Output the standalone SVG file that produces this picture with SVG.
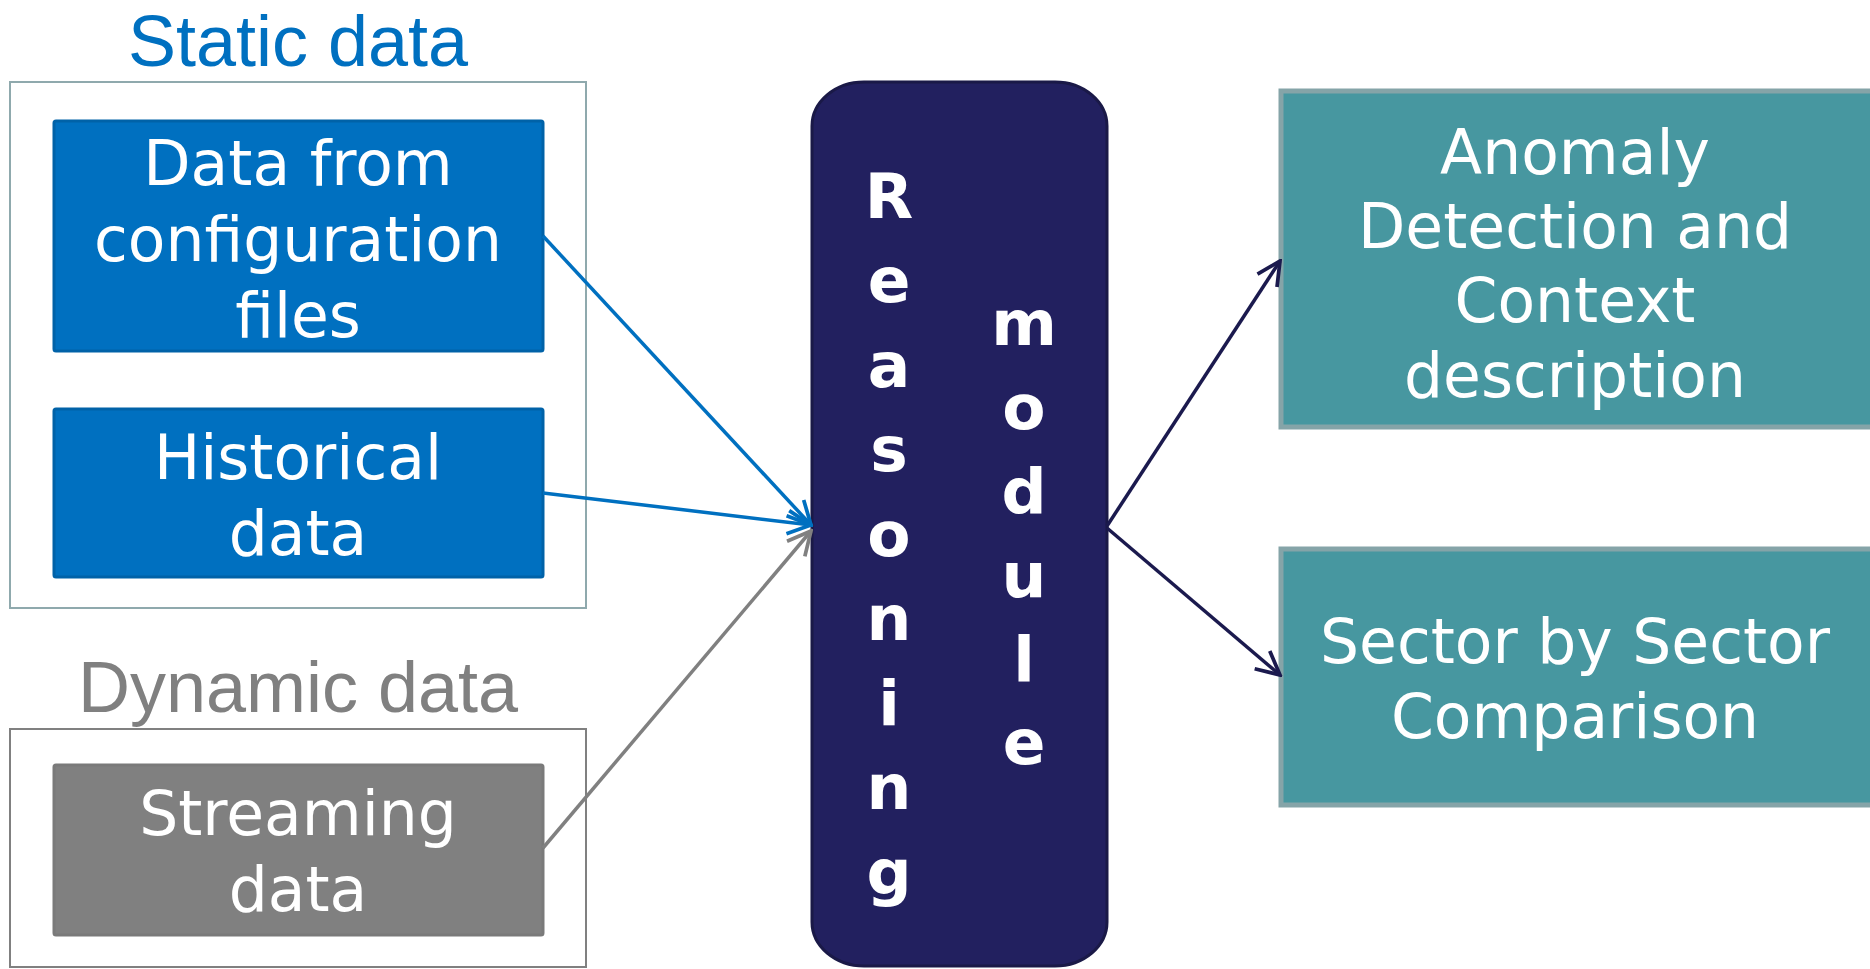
<svg xmlns="http://www.w3.org/2000/svg" width="1870" height="969" viewBox="0 0 1870 969">
<style>
.title{font-family:"Liberation Sans",Arial,sans-serif;font-size:72px;text-anchor:middle}
.lbl{font-family:"DejaVu Sans","Noto Sans",sans-serif;font-size:61.5px;fill:#ffffff;text-anchor:middle}
.vert{font-family:"DejaVu Sans","Noto Sans",sans-serif;font-size:63px;font-weight:bold;fill:#ffffff;text-anchor:middle}
.blue{fill:#0070C0;stroke:#0062A8;stroke-width:3}
.gray{fill:#808080;stroke:#7A7A7A;stroke-width:3}
.teal{fill:#4797A0;stroke:#85A4A8;stroke-width:5}
.frame{fill:#ffffff;stroke-width:2}
.conn{fill:none;stroke-width:3.5}
</style>
<defs>
<marker id="ab" viewBox="0 0 12 12" refX="11" refY="6" markerWidth="8" markerHeight="8" orient="auto" markerUnits="strokeWidth"><path d="M1,1 L11,6 L1,11" fill="none" stroke="#0070C0" stroke-width="1.6"/></marker>
<marker id="ag" viewBox="0 0 12 12" refX="11" refY="6" markerWidth="8" markerHeight="8" orient="auto" markerUnits="strokeWidth"><path d="M1,1 L11,6 L1,11" fill="none" stroke="#808080" stroke-width="1.6"/></marker>
<marker id="an" viewBox="0 0 12 12" refX="11" refY="6" markerWidth="8" markerHeight="8" orient="auto" markerUnits="strokeWidth"><path d="M1,1 L11,6 L1,11" fill="none" stroke="#1B1A4E" stroke-width="1.6"/></marker>
</defs>
<rect width="1870" height="969" fill="#ffffff"/>

<g id="static-group">
<text class="title" x="298" y="66" fill="#0070C0">Static data</text>
<rect class="frame" x="10" y="82" width="576" height="526" stroke="#8FA9AD"/>
</g>
<g id="config-files">
<rect class="blue" x="54" y="121" width="489" height="230" rx="2"/>
<text class="lbl" x="298" y="185">Data from</text>
<text class="lbl" x="298" y="261">configuration</text>
<text class="lbl" x="298" y="337">files</text>
</g>
<g id="historical-data">
<rect class="blue" x="54" y="409" width="489" height="168" rx="2"/>
<text class="lbl" x="298" y="479">Historical</text>
<text class="lbl" x="298" y="555">data</text>
</g>
<g id="dynamic-group">
<text class="title" x="298" y="712" fill="#808080">Dynamic data</text>
<rect class="frame" x="10" y="729" width="576" height="238" stroke="#808080"/>
</g>
<g id="streaming-data">
<rect class="gray" x="54" y="765" width="489" height="170" rx="2"/>
<text class="lbl" x="298" y="835">Streaming</text>
<text class="lbl" x="298" y="911">data</text>
</g>
<g id="reasoning-module">
<rect x="812" y="82" width="295" height="884" rx="52" ry="44" fill="#22205F" stroke="#1A1947" stroke-width="3"/>
<text class="vert" x="889" y="218">R</text>
<text class="vert" x="889" y="302">e</text>
<text class="vert" x="889" y="387">a</text>
<text class="vert" x="889" y="471">s</text>
<text class="vert" x="889" y="556">o</text>
<text class="vert" x="889" y="640">n</text>
<text class="vert" x="889" y="725">i</text>
<text class="vert" x="889" y="809">n</text>
<text class="vert" x="889" y="894">g</text>
<text class="vert" x="1024" y="345">m</text>
<text class="vert" x="1024" y="429">o</text>
<text class="vert" x="1024" y="513">d</text>
<text class="vert" x="1024" y="597">u</text>
<text class="vert" x="1024" y="681">l</text>
<text class="vert" x="1024" y="764">e</text>
</g>
<g id="anomaly-detection">
<rect class="teal" x="1281" y="91" width="600" height="336"/>
<text class="lbl" x="1575" y="174">Anomaly</text>
<text class="lbl" x="1575" y="248">Detection and</text>
<text class="lbl" x="1575" y="322">Context</text>
<text class="lbl" x="1575" y="397">description</text>
</g>
<g id="sector-comparison">
<rect class="teal" x="1281" y="549" width="600" height="256"/>
<text class="lbl" x="1575" y="663">Sector by Sector</text>
<text class="lbl" x="1575" y="738">Comparison</text>
</g>
<g id="connectors">
<line class="conn" x1="543" y1="236" x2="811" y2="525" stroke="#0070C0" marker-end="url(#ab)"/>
<line class="conn" x1="543" y1="493" x2="811" y2="525" stroke="#0070C0" marker-end="url(#ab)"/>
<line class="conn" x1="543" y1="848" x2="811" y2="531" stroke="#808080" marker-end="url(#ag)"/>
<line class="conn" x1="1107" y1="526" x2="1280" y2="261" stroke="#1B1A4E" marker-end="url(#an)"/>
<line class="conn" x1="1107" y1="528" x2="1280" y2="675" stroke="#1B1A4E" marker-end="url(#an)"/>
</g>
</svg>
